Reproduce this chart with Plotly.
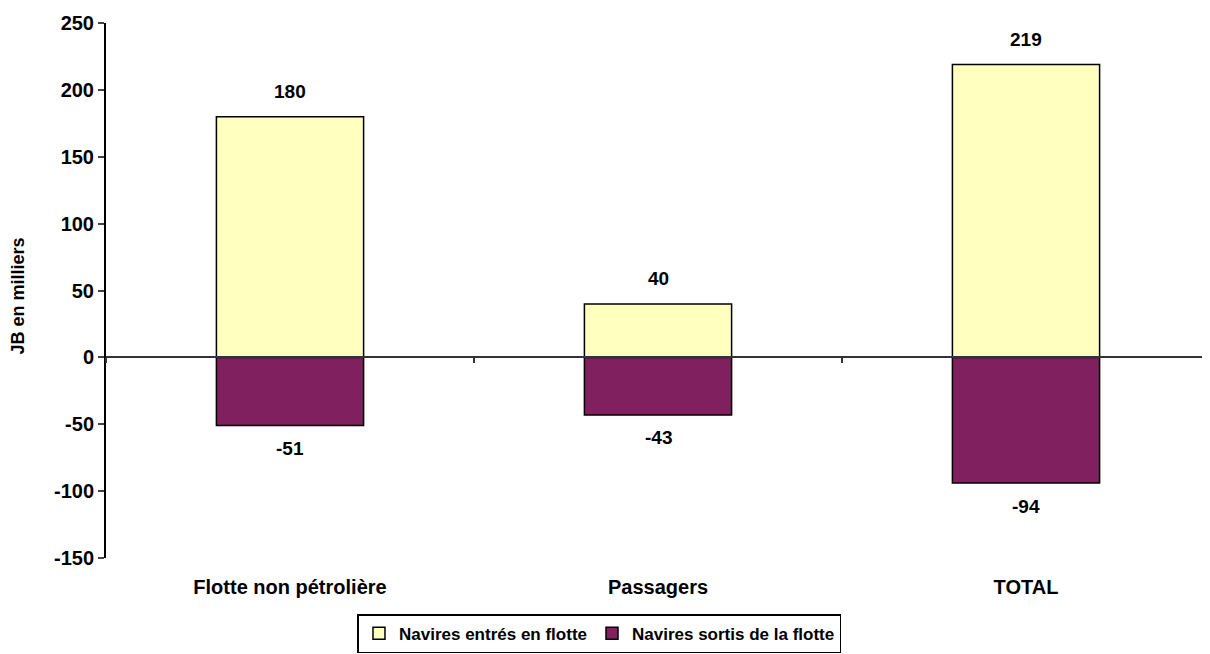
import plotly.graph_objects as go

categories = ["Flotte non pétrolière", "Passagers", "TOTAL"]
entres = [180, 40, 219]
sortis = [-51, -43, -94]
y_ticks = [-150, -100, -50, 0, 50, 100, 150, 200, 250]

FONT = "Liberation Sans, Arial, sans-serif"

fig = go.Figure()

fig.add_trace(go.Bar(x=categories, y=entres, name="Navires entrés en flotte",
                     marker=dict(color="#FFFFC0", line=dict(color="black", width=1.5)),
                     width=0.4, hoverinfo="skip"))
fig.add_trace(go.Bar(x=categories, y=sortis, name="Navires sortis de la flotte",
                     marker=dict(color="#80205F", line=dict(color="black", width=1.5)),
                     width=0.4, hoverinfo="skip"))

# invisible trace to carry the categories on the axis drawn at y=0
fig.add_trace(go.Scatter(x=categories, y=[0] * len(categories), xaxis="x2",
                         mode="markers", marker=dict(opacity=0), showlegend=False,
                         hoverinfo="skip"))

# data labels
for cat, v in zip(categories, entres):
    fig.add_annotation(x=cat, y=v, text=str(v), showarrow=False, yshift=25,
                       font=dict(family=FONT, size=19, color="black", weight="bold"))
for cat, v in zip(categories, sortis):
    fig.add_annotation(x=cat, y=v, text=str(v), showarrow=False, yshift=-23,
                       font=dict(family=FONT, size=19, color="black", weight="bold"))

# y axis title, further left than the axis title standoff allows
fig.add_annotation(xref="paper", yref="paper", x=-0.08, y=0.49, text="JB en milliers",
                   textangle=-90, showarrow=False, xanchor="center", yanchor="middle",
                   font=dict(family=FONT, size=18, color="black", weight="bold"))

# page body keeps its default 8px margin, so the figure is 8px smaller
fig.update_layout(
    width=1202, height=646,
    margin=dict(l=98, r=0, t=15, b=96, autoexpand=False),
    plot_bgcolor="white", paper_bgcolor="white",
    barmode="relative",
    font=dict(family=FONT, size=18, color="black", weight="bold"),
    xaxis=dict(type="category", showline=False, ticks="", showgrid=False,
               range=[-0.5, 2.5], ticklabelstandoff=15,
               tickfont=dict(size=20, weight="bold")),
    xaxis2=dict(type="category", overlaying="x", anchor="free", position=0.375,
                matches="x", showline=True, linecolor="#333333", linewidth=1.5,
                ticks="outside", tickson="boundaries", ticklen=5, tickwidth=1.5,
                tickcolor="#333333", showticklabels=False, showgrid=False),
    yaxis=dict(range=[-150, 250], tickvals=y_ticks,
               ticktext=[str(t) for t in y_ticks],
               showgrid=False, zeroline=False,
               showline=True, linecolor="black", linewidth=2, ticks="outside",
               ticklen=6, tickwidth=1.5, tickfont=dict(size=20, weight="bold")),
    legend=dict(orientation="h", x=0.447, xanchor="center", y=-0.105, yanchor="top",
                bordercolor="black", borderwidth=1.5,
                font=dict(size=17, weight="bold"), itemwidth=30,
                tracegroupgap=0),
    showlegend=True,
)

fig.write_html("out.html")
